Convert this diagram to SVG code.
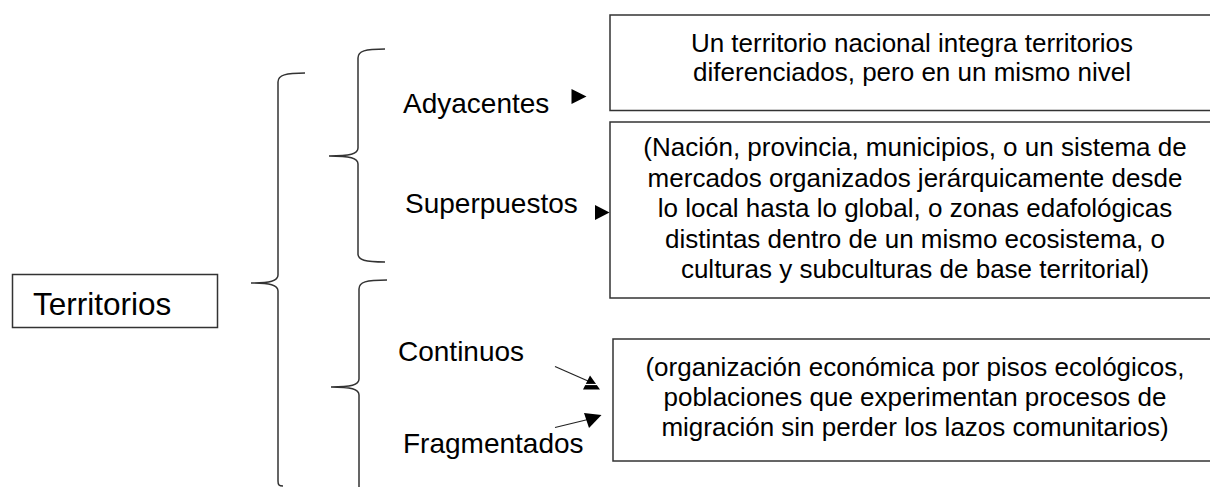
<svg xmlns="http://www.w3.org/2000/svg" width="1210" height="487" viewBox="0 0 1210 487">
<style>
.box{fill:#fff;stroke:#333;stroke-width:1.5}
.br{fill:none;stroke:#333;stroke-width:1.5}
.ln{fill:none;stroke:#222;stroke-width:1.2}
.hd{fill:#000;stroke:none}
.t{font-family:"Liberation Sans",Arial,sans-serif;fill:#000}
.lab{font-size:28px}
.bt{font-size:26px;text-anchor:middle}
</style>
<rect width="1210" height="487" fill="#fff"/>
<g id="territorios">
<rect class="box" x="12.5" y="274.5" width="205" height="53"/>
<text class="t" x="33" y="315" font-size="31.5">Territorios</text>
</g>
<g id="brackets">
<path class="br" d="M305,73 C286,73 278,75 278,82 L278,275 C278,281 270,283 251,283 C270,283 278,285 278,291 L278,481 C278,485 279,486 283,486"/>
<path class="br" d="M385,49 C365,49 358,51 358,58 L358,148 C358,154 350,156 329,156 C350,156 358,158 358,164 L358,254 C358,260 365,262 385,262"/>
<path class="br" d="M387,280 C366,280 359,282 359,289 L359,379 C359,385 351,387 331,387 C351,387 359,389 359,395 L359,487"/>
</g>
<g id="adyacentes"><text class="t lab" x="403" y="113">Adyacentes</text></g>
<g id="superpuestos"><text class="t lab" x="405" y="213">Superpuestos</text></g>
<g id="continuos"><text class="t lab" x="398" y="361">Continuos</text></g>
<g id="fragmentados"><text class="t lab" x="403" y="453">Fragmentados</text></g>
<g id="box-adyacentes">
<rect class="box" x="610" y="15" width="620" height="95.5"/>
<text class="t bt" x="912" y="52">Un territorio nacional integra territorios</text>
<text class="t bt" x="912" y="81">diferenciados, pero en un mismo nivel</text>
</g>
<g id="box-superpuestos">
<rect class="box" x="610" y="122" width="620" height="176"/>
<text class="t bt" x="915" y="156">(Nación, provincia, municipios, o un sistema de</text>
<text class="t bt" x="915" y="186.5">mercados organizados jerárquicamente desde</text>
<text class="t bt" x="915" y="217">lo local hasta lo global, o zonas edafológicas</text>
<text class="t bt" x="915" y="247.5">distintas dentro de un mismo ecosistema, o</text>
<text class="t bt" x="915" y="278">culturas y subculturas de base territorial)</text>
</g>
<g id="box-continuos">
<rect class="box" x="613" y="339" width="620" height="122"/>
<text class="t bt" x="915" y="376">(organización económica por pisos ecológicos,</text>
<text class="t bt" x="915" y="406">poblaciones que experimentan procesos de</text>
<text class="t bt" x="915" y="436">migración sin perder los lazos comunitarios)</text>
</g>
<g id="connectors">
<polygon class="hd" points="571.5,89 571.5,104 586.5,96.5"/>
<polygon class="hd" points="595,205 595,220 609.5,212.5"/>
<line class="ln" x1="555" y1="366.5" x2="588" y2="381"/>
<polygon class="hd" points="590,375.5 583,389.5 600,389.5"/>
<line x1="583" y1="384.5" x2="600" y2="384.5" stroke="#fff" stroke-width="1.2"/>
<line class="ln" x1="555" y1="427.5" x2="590" y2="419"/>
<polygon class="hd" points="601.5,415 584,413 589,428"/>
</g>
</svg>
